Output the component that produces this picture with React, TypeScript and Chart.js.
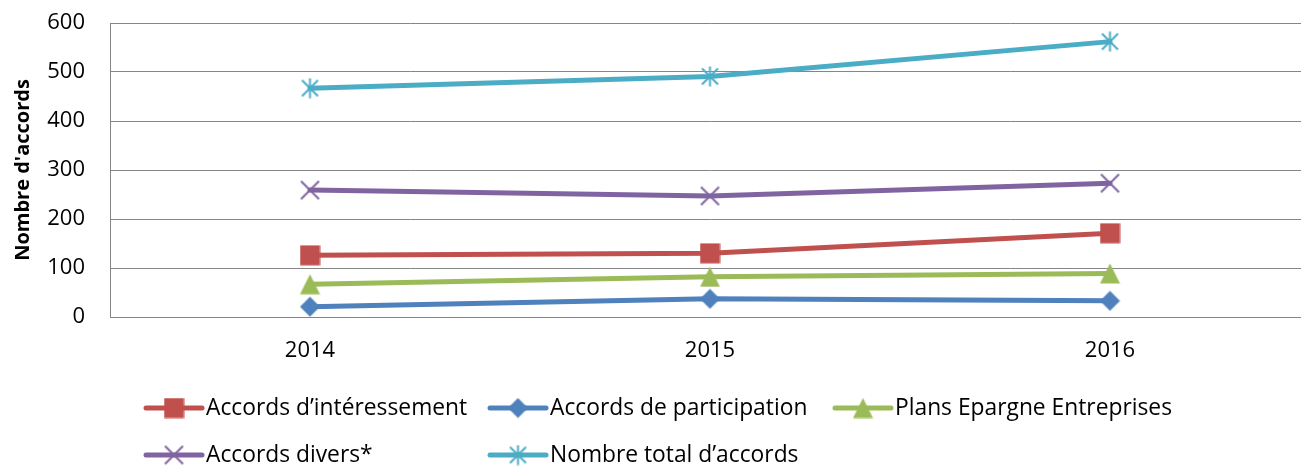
import React, { useEffect, useRef } from 'react';
import { Chart, registerables } from 'chart.js';

Chart.register(...registerables);

const categories = ['2014', '2015', '2016'];
const interessement = [126, 130, 171];
const participation = [21, 37, 33];
const plansEpargne = [67, 82, 89];
const divers = [259, 247, 273];
const total = [467, 491, 562];

const yMin = 0;
const yMax = 600;
const yStep = 100;

const yTitle = "Nombre d'accords";
const seriesNames = [
  'Accords d’intéressement',
  'Accords de participation',
  'Plans Epargne Entreprises',
  'Accords divers*',
  'Nombre total d’accords',
];
const seriesValues = [interessement, participation, plansEpargne, divers, total];
const seriesColors = ['#C0504D', '#4F81BD', '#9BBB59', '#8064A2', '#4BACC6'];
const seriesMarkers = ['square', 'diamond', 'triangle', 'x', 'asterisk'];

const FONT = '"Open Sans", "Noto Sans", sans-serif';

function makeMarker(kind: string, color: string): HTMLCanvasElement {
  const s = 21;
  const c = document.createElement('canvas');
  c.width = s;
  c.height = s;
  const g = c.getContext('2d')!;
  g.fillStyle = color;
  g.strokeStyle = color;
  const m = s / 2;
  if (kind === 'square') {
    g.fillRect(0.5, 0.5, 20, 20);
  } else if (kind === 'diamond') {
    g.beginPath();
    g.moveTo(m, 0.5);
    g.lineTo(s - 0.5, m);
    g.lineTo(m, s - 0.5);
    g.lineTo(0.5, m);
    g.closePath();
    g.fill();
  } else if (kind === 'triangle') {
    g.beginPath();
    g.moveTo(m, 0.5);
    g.lineTo(s - 0.5, s - 0.5);
    g.lineTo(0.5, s - 0.5);
    g.closePath();
    g.fill();
  } else if (kind === 'x') {
    g.lineWidth = 2;
    g.beginPath();
    g.moveTo(1.5, 1.5);
    g.lineTo(s - 1.5, s - 1.5);
    g.moveTo(s - 1.5, 1.5);
    g.lineTo(1.5, s - 1.5);
    g.stroke();
  } else if (kind === 'asterisk') {
    g.lineWidth = 2;
    g.beginPath();
    g.moveTo(2.5, 2.5);
    g.lineTo(s - 2.5, s - 2.5);
    g.moveTo(s - 2.5, 2.5);
    g.lineTo(2.5, s - 2.5);
    g.moveTo(m, 0.5);
    g.lineTo(m, s - 0.5);
    g.stroke();
  }
  return c;
}

export default function App() {
  const canvasRef = useRef<HTMLCanvasElement | null>(null);

  useEffect(() => {
    const canvas = canvasRef.current;
    if (!canvas) return;
    const markers = seriesMarkers.map((k, i) => makeMarker(k, seriesColors[i]));

    const legendItems = [
      { idx: 0, x: 146, y: 408 },
      { idx: 1, x: 490, y: 408 },
      { idx: 2, x: 835, y: 408 },
      { idx: 3, x: 146, y: 455 },
      { idx: 4, x: 490, y: 455 },
    ];

    const legendPlugin = {
      id: 'excelLegend',
      afterDraw(chart: any) {
        const ctx = chart.ctx as CanvasRenderingContext2D;
        ctx.save();
        for (const it of legendItems) {
          const color = seriesColors[it.idx];
          ctx.strokeStyle = color;
          ctx.lineWidth = 5;
          ctx.lineCap = 'round';
          ctx.beginPath();
          ctx.moveTo(it.x, it.y);
          ctx.lineTo(it.x + 56, it.y);
          ctx.stroke();
          const mk = markers[it.idx];
          ctx.drawImage(mk, it.x + 28 - mk.width / 2, it.y - mk.height / 2);
          ctx.fillStyle = '#000000';
          ctx.font = `22.8px ${FONT}`;
          ctx.textBaseline = 'middle';
          ctx.textAlign = 'left';
          ctx.fillText(seriesNames[it.idx], it.x + 60, it.y + 1);
        }
        ctx.restore();
      },
    };

    const chart = new Chart(canvas, {
      type: 'line',
      data: {
        labels: categories,
        datasets: seriesValues.map((vals, i) => ({
          label: seriesNames[i],
          data: vals,
          borderColor: seriesColors[i],
          backgroundColor: seriesColors[i],
          borderWidth: 5,
          borderCapStyle: 'round' as const,
          borderJoinStyle: 'round' as const,
          pointStyle: markers[i],
          pointRadius: 10,
          pointHoverRadius: 10,
          tension: 0,
          fill: false,
          clip: false as any,
          order: seriesValues.length - i,
        })),
      },
      options: {
        responsive: false,
        animation: false,
        devicePixelRatio: 1,
        layout: { autoPadding: false, padding: { left: 0, right: 2, top: 23, bottom: 0 } },
        plugins: {
          legend: { display: false },
          tooltip: { enabled: false },
          title: { display: false },
        },
        scales: {
          x: {
            type: 'category',
            offset: true,
            grid: { display: false, drawTicks: false },
            border: { display: true, color: '#868686', width: 1 },
            ticks: {
              color: '#000000',
              font: { family: FONT, size: 22 },
              padding: 21,
              maxRotation: 0,
              autoSkip: false,
            },
            afterFit: (scale: any) => {
              scale.height = 149;
              scale.paddingLeft = 0;
              scale.paddingRight = 0;
            },
          },
          y: {
            min: yMin,
            max: yMax,
            grid: { color: '#868686', lineWidth: 1, drawTicks: false },
            border: { display: true, color: '#868686', width: 1 },
            ticks: {
              stepSize: yStep,
              color: '#000000',
              font: { family: FONT, size: 22 },
              padding: 25,
            },
            title: {
              display: true,
              text: yTitle,
              color: '#000000',
              font: { family: FONT, size: 20, weight: 'bold' },
              padding: { top: 11, bottom: 0 },
            },
            afterFit: (scale: any) => {
              scale.width = 110;
              scale.paddingTop = 0;
              scale.paddingBottom = 0;
            },
          },
        },
      },
      plugins: [legendPlugin],
    });

    return () => {
      chart.destroy();
    };
  }, []);

  return (
    <div
      style={{
        position: 'fixed',
        left: 0,
        top: 0,
        width: 1301,
        height: 466,
        overflow: 'hidden',
        background: '#ffffff',
      }}
    >
      <canvas ref={canvasRef} width={1312} height={466} style={{ display: 'block' }} />
    </div>
  );
}
